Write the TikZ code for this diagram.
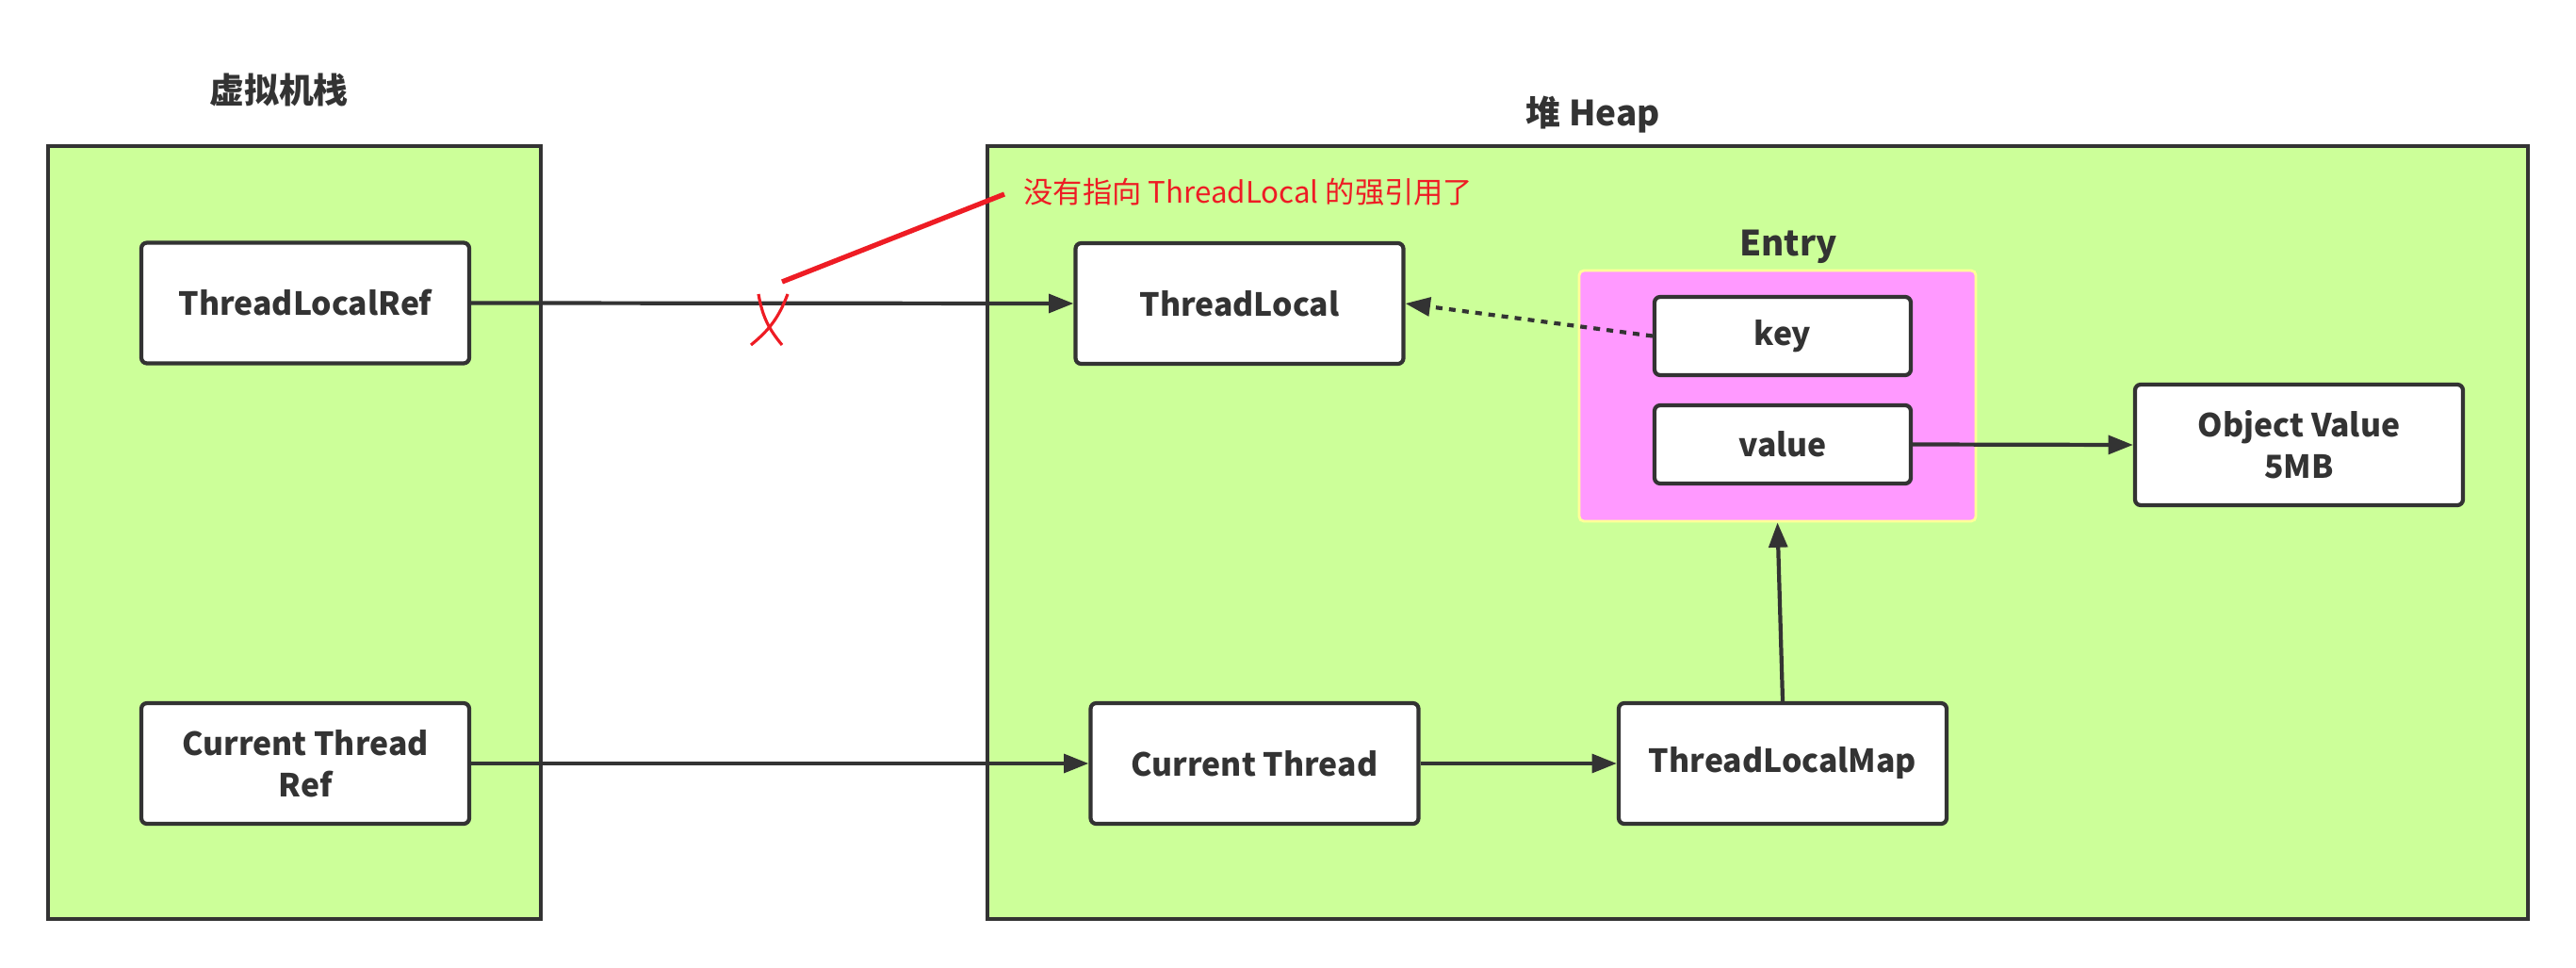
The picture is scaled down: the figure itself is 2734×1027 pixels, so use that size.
\documentclass[tikz,border=0pt]{standalone}
\usepackage{fontspec}
\setmainfont{Noto Sans CJK SC}
\usetikzlibrary{arrows.meta}
\definecolor{ink}{HTML}{333333}
\definecolor{leaf}{HTML}{CCFF99}
\definecolor{pinkfill}{HTML}{FF99FF}
\definecolor{paleyellow}{HTML}{FFFF99}
\definecolor{alert}{HTML}{EE1C24}
\tikzset{
  region/.style={draw=ink, fill=leaf, line width=1.3pt, inner sep=0pt},
  objbox/.style={draw=ink, fill=white, line width=1.2pt, rounded corners=0.6mm,
    minimum width=34.8mm, minimum height=12.8mm, inner sep=0pt,
    align=center, font=\fontsize{9.6}{12.5}\selectfont\bfseries, text=ink},
  fieldbox/.style={objbox, minimum width=27.2mm, minimum height=8.3mm},
  heading/.style={font=\fontsize{10.5}{12.5}\selectfont\bfseries, text=ink},
  ref/.style={draw=ink, line width=1.2pt, -{Triangle[length=7.5pt,width=5.6pt]}},
  weakref/.style={ref, dash pattern=on 2pt off 2pt},
}
\begin{document}
\begin{tikzpicture}[x=0.1mm, y=-0.1mm]
\useasboundingbox (0,0) rectangle (2734,1027);

% the two memory areas
\node[region, minimum width=52.3mm, minimum height=82mm] (stack) at (312.5,565) {};
\node[region, minimum width=163.5mm, minimum height=82mm] (heap) at (1865.5,565) {};
\node[heading] (stacktitle) at (296,95) {虚拟机栈};
\node[heading] (heaptitle) at (1691,122) {堆 Heap};

% stack references
\node[objbox] (tlref) at (324,321.5) {ThreadLocalRef};
\node[objbox] (ctref) at (324,810) {Current Thread\\Ref};

% heap objects
\node[objbox] (tl) at (1315.5,322) {ThreadLocal};
\node[objbox] (ct) at (1331.5,810) {Current Thread};
\node[objbox] (map) at (1892,810) {ThreadLocalMap};
\node[objbox] (obj) at (2440,472) {Object Value\\5MB};

% the map entry with its key and value
\node[draw=paleyellow, fill=pinkfill, line width=0.8pt, rounded corners=0.5mm,
  minimum width=42.1mm, minimum height=26.6mm, inner sep=0pt] (entry) at (1886.5,420) {};
\node[heading] (entrytitle) at (1898,262) {Entry};
\node[fieldbox] (key) at (1892,356.5) {key};
\node[fieldbox] (val) at (1892,471.5) {value};

% references
\draw[ref] (tlref.east) -- (tl.west);
\draw[ref] (ctref.east) -- (ct.west);
\draw[ref] (ct) -- (map);
\draw[ref] (map.north) -- (entry.south);
\draw[ref] (val.east) -- (obj.west);
\draw[weakref] (key.west) -- (tl.east);

% the strong reference is gone
\coordinate (crossA) at (805,312);
\coordinate (crossB) at (830,366);
\coordinate (crossC) at (836,312);
\coordinate (crossD) at (797,366);
\draw[alert, line width=0.9pt] (crossA) to[bend right=15] (crossB);
\draw[alert, line width=0.9pt] (crossC) to[bend left=15] (crossD);
\node[anchor=west, text=alert, font=\fontsize{8.9}{11}\selectfont, inner sep=0pt] (note) at (1086,204)
  {没有指向 ThreadLocal 的强引用了};
\coordinate (pointer) at (830,299);
\draw[alert, line width=1.5pt] (pointer) -- (1066,206);
\end{tikzpicture}
\end{document}
